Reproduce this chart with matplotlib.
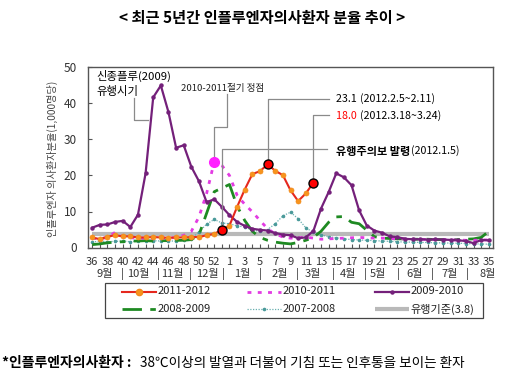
import numpy as np
import matplotlib
matplotlib.use('Agg')
import matplotlib.pyplot as plt
from matplotlib.lines import Line2D
from matplotlib.patches import Rectangle

plt.rcParams['font.family'] = ['Noto Sans CJK KR', 'DejaVu Sans']

# ---------------- data ----------------
weeks = list(range(36, 54)) + list(range(1, 36))          # 53 weekly slots
tick_weeks_shown = [w for w in weeks if (w >= 36 and w <= 52 and w % 2 == 0) or (w < 36 and w % 2 == 1)]
months = ['9월', '10월', '11월', '12월', '1월', '2월', '3월', '4월', '5월', '6월', '7월', '8월']

s_2011_2012 = [2.8, 2.3, 3.0, 3.4, 3.1, 3.1, 2.8, 2.8, 2.9, 2.8, 2.7, 2.8, 2.8, 2.9, 2.9, 3.4, 3.8,
               4.9, 6.1, 11.3, 16.1, 20.4, 21.2, 23.1, 21.3, 20.1, 15.9, 12.9, 15.0, 18.0]
s_2010_2011 = [2.6, 2.4, 2.8, 4.2, 3.0, 2.7, 2.6, 2.6, 2.5, 2.6,
               2.6, 2.8, 3.4, 4.5, 8.5, 15.0, 23.8, 22.8, 20.0, 14.5,
               12.0, 9.9, 7.5, 5.2, 3.8, 2.9, 2.6, 2.7, 2.9, 2.6,
               2.3, 2.4, 2.5, 2.6, 2.7, 2.8, 2.7, 2.6, 2.6, 2.5,
               2.4, 2.4, 2.3, 2.3, 2.2, 2.2, 2.2, 2.1, 2.1, 2.0,
               2.0, 2.1, 2.1]
s_2009_2010 = [5.5, 6.3, 6.4, 7.1, 7.4, 5.7, 9.1, 20.6, 41.7, 45.0,
               37.6, 27.7, 28.4, 22.4, 18.4, 12.6, 13.4, 11.3, 9.0, 7.1,
               6.0, 5.2, 4.9, 4.7, 4.0, 3.6, 3.4, 2.6, 2.8, 4.6,
               10.8, 15.4, 20.6, 19.5, 17.3, 10.3, 6.1, 4.7, 4.1, 3.1,
               2.9, 2.4, 2.3, 2.3, 2.2, 2.3, 2.2, 2.1, 2.0, 1.8,
               1.2, 2.1, 2.0]
s_2008_2009 = [0.8, 1.0, 1.3, 1.5, 1.6, 1.8, 1.8, 1.9, 1.8, 1.9,
               1.9, 2.0, 2.0, 2.2, 3.5, 9.5, 15.5, 16.5, 17.5, 11.5,
               7.5, 4.5, 2.8, 2.0, 1.5, 1.2, 1.0, 1.4, 2.0, 2.8,
               4.5, 7.0, 8.5, 8.6, 7.0, 6.6, 4.8, 3.0, 2.6, 2.5,
               2.4, 2.4, 2.3, 2.3, 2.3, 2.2, 2.2, 2.2, 2.2, 2.3,
               2.4, 2.8, 4.5]
s_2007_2008 = [1.5, 1.8, 1.6, 1.7, 1.8, 1.6, 1.8, 1.8, 1.9, 1.8,
               1.8, 1.8, 2.0, 2.5, 4.3, 6.5, 7.8, 6.8, 6.6, 6.0,
               5.7, 4.8, 4.5, 5.0, 6.6, 8.8, 9.8, 8.0, 5.5, 4.2,
               3.5, 3.0, 2.7, 2.4, 2.2, 2.1, 2.0, 1.9, 1.8, 1.7,
               1.6, 1.5, 1.5, 1.4, 1.4, 1.3, 1.3, 1.2, 1.2, 1.1,
               1.0, 1.0, 0.9]
threshold = 3.8
warning_week = 53   # slot of the 2012.1.5 epidemic-advisory point

# ---------------- figure ----------------
W, H = 522, 376
fig = plt.figure(figsize=(W / 100, H / 100), dpi=100)
AX_L, AX_R, AX_T, AX_B = 88, 493, 67.5, 247.5
ax = fig.add_axes([AX_L / W, 1 - AX_B / H, (AX_R - AX_L) / W, (AX_B - AX_T) / H])
XMIN, XMAX = -0.55, 52.55
ax.set_xlim(XMIN, XMAX)
ax.set_ylim(0, 50)
renderer = fig.canvas.get_renderer()

def dx(px):  # pixel -> data x
    return XMIN + (px - AX_L) / (AX_R - AX_L) * (XMAX - XMIN)

def dy(py):  # pixel -> data y
    return (AX_B - py) / (AX_B - AX_T) * 50

def chain_text(first, px_start, py, parts):
    """Place text parts one after another, starting at pixel px_start."""
    cur = px_start
    for s, kw in parts:
        t = fig.text(cur / W, 1 - py / H, s, ha='left', va='center', **kw)
        bb = t.get_window_extent(renderer=renderer)
        cur = bb.x1
    return cur

x = np.arange(len(weeks))
n12 = len(s_2011_2012)

# threshold line
ax.plot(x, [threshold] * len(x), color='#b9b9b9', lw=3, zorder=1, solid_capstyle='butt')
# 2007-2008
ax.plot(x, s_2007_2008, color='#6ab0b0', lw=0.9, ls=(0, (1, 1.2)), marker='o', ms=1.6,
        mfc='#4a9a9a', mec='#4a9a9a', zorder=2)
# 2008-2009
ax.plot(x, s_2008_2009, color='#1e8a22', lw=2.0, ls=(0, (7, 3, 2, 3)), zorder=3)
# 2010-2011
ax.plot(x, s_2010_2011, color='#e23be2', lw=2.0, ls=(0, (1.4, 2.3)), zorder=4)
# 2009-2010
ax.plot(x, s_2009_2010, color='#74207a', lw=1.6, marker='o', ms=2.2, mfc='#74207a', mec='#74207a', zorder=5)
# 2011-2012
ax.plot(x[:n12], s_2011_2012, color='#e5281e', lw=1.5, marker='o', ms=3.6, mfc='#f7941d',
        mec='#f28a1a', mew=0.5, zorder=7)

# highlighted points
i_warn = weeks.index(warning_week)
i_peak12 = int(np.argmax(s_2011_2012))
i_last12 = n12 - 1
i_peak11 = int(np.argmax(s_2010_2011))
for i in (i_warn, i_peak12, i_last12):
    ax.plot(x[i], s_2011_2012[i], 'o', ms=6.5, mfc='#ff0000', mec='black', mew=1.0, zorder=9)
ax.plot(x[i_peak11], s_2010_2011[i_peak11], 'o', ms=7, mfc='#ff1fff', mec='#ff1fff', zorder=8)

# axes styling
for sp in ax.spines.values():
    sp.set_color('#555555')
    sp.set_linewidth(1.0)
ax.set_yticks([0, 10, 20, 30, 40, 50])
ax.tick_params(axis='y', direction='in', length=3, pad=8, labelsize=8.5, labelcolor='#333333', color='#555555')
ax.set_xticks(x)
ax.set_xticklabels([str(w) if w in tick_weeks_shown else '' for w in weeks])
ax.tick_params(axis='x', direction='in', length=3, pad=6.5, labelsize=8, labelcolor='#333333', color='#555555')

# month row
month_px = [105, 138, 172, 207, 242, 280, 313, 348, 378, 415, 450, 488]
sep_px = [122, 158, 190, 223, 260, 297, 333, 365, 398, 432, 467]
for m, px in zip(months, month_px):
    fig.text(px / W, 1 - 273.5 / H, m, ha='center', va='center', fontsize=8, color='#333333')
for px in sep_px:
    fig.text(px / W, 1 - 273.5 / H, '|', ha='center', va='center', fontsize=8, color='#333333')

# y-label
fig.text(52 / W, 1 - 159 / H, '인플루엔자 의사환자분율(1,000명당)', rotation=90, ha='center', va='center',
         fontsize=7.3, color='#444444')

# title
fig.text(262 / W, 1 - 18 / H, '< 최근 5년간 인플루엔자의사환자 분율 추이 >', ha='center', va='center',
         fontsize=11, fontweight='bold', color='black')

# ---------------- annotations ----------------
lc = '#8a8a8a'
lw_l = 0.9
# 신종플루
fig.text(96 / W, 1 - 76 / H, '신종플루(2009)', fontsize=8.2, va='center', ha='left', color='black')
fig.text(96 / W, 1 - 92 / H, '유행시기', fontsize=8.2, va='center', ha='left', color='black')
ax.plot([dx(134), dx(134), dx(148)], [dy(98), dy(120), dy(120)], color=lc, lw=lw_l, zorder=6)
# 2010-2011 peak
fig.text(181 / W, 1 - 88 / H, '2010-2011절기 정점', fontsize=6.9, va='center', ha='left', color='#222222')
ax.plot([dx(226.7), dx(226.7), x[i_peak11], x[i_peak11]],
        [dy(94), dy(126.7), dy(126.7), s_2010_2011[i_peak11] + 1.6], color=lc, lw=lw_l, zorder=6)
# 23.1
chain_text(None, 336.5, 98.5, [('%.1f ' % s_2011_2012[i_peak12], dict(fontsize=7.7, color='black')),
                               ('(2012.2.5~2.11)', dict(fontsize=7.7, color='black'))])
ax.plot([dx(329), x[i_peak12], x[i_peak12]], [dy(99), dy(99), s_2011_2012[i_peak12] + 1.3],
        color=lc, lw=lw_l, zorder=6)
# 18.0
chain_text(None, 336.5, 116, [('%.1f ' % s_2011_2012[i_last12], dict(fontsize=7.7, color='#ff0000')),
                              ('(2012.3.18~3.24)', dict(fontsize=7.7, color='black'))])
ax.plot([dx(329), x[i_last12], x[i_last12]], [dy(115), dy(115), s_2011_2012[i_last12] + 1.3],
        color=lc, lw=lw_l, zorder=6)
# 유행주의보
chain_text(None, 336.5, 151, [('유행주의보 발령', dict(fontsize=8, fontweight='bold', color='black')),
                              ('(2012.1.5)', dict(fontsize=7.7, color='black'))])
ax.plot([dx(327), x[i_warn], x[i_warn]], [dy(149.3), dy(149.3), s_2011_2012[i_warn] + 1.3],
        color=lc, lw=lw_l, zorder=6)

# ---------------- legend (manual) ----------------
def fpx(px, py):
    return px / W, 1 - py / H

x0, y0 = fpx(105, 318)
x1, y1 = fpx(483, 283)
fig.patches.append(Rectangle((x0, y0), x1 - x0, y1 - y0, transform=fig.transFigure,
                             fill=False, edgecolor='#444444', lw=0.9))
legend_items = [
    ('2011-2012', dict(color='#e5281e', lw=1.5), dict(marker='o', ms=4.5, mfc='#f7941d', mec='#f28a1a'), 122, 291.5),
    ('2010-2011', dict(color='#e23be2', lw=2.0, ls=(0, (1.4, 2.3))), None, 247, 291.5),
    ('2009-2010', dict(color='#74207a', lw=1.6), dict(marker='o', ms=2.2, mfc='#74207a', mec='#74207a'), 375, 291.5),
    ('2008-2009', dict(color='#1e8a22', lw=2.0, ls=(0, (7, 3, 2, 3))), None, 122, 309),
    ('2007-2008', dict(color='#6ab0b0', lw=0.9, ls=(0, (1, 1.2))), dict(marker='o', ms=1.6, mfc='#4a9a9a', mec='#4a9a9a'), 247, 309),
    ('유행기준(3.8)', dict(color='#b9b9b9', lw=3, solid_capstyle='butt'), None, 375, 309),
]
for label, lkw, mkw, px, py in legend_items:
    xa, ya = fpx(px, py)
    xb, _ = fpx(px + 34, py)
    fig.lines.append(Line2D([xa, xb], [ya, ya], transform=fig.transFigure, **lkw))
    if mkw:
        fig.lines.append(Line2D([(xa + xb) / 2], [ya], transform=fig.transFigure, ls='none', **mkw))
    fig.text(xb + 1.5 / W, ya, label, ha='left', va='center', fontsize=8, color='#222222')

# ---------------- footnote ----------------
fig.text(2 / W, 1 - 363 / H, '*인플루엔자의사환자 :', ha='left', va='center', fontsize=10,
         fontweight='bold', color='black')
fig.text(140 / W, 1 - 363 / H, '38℃이상의 발열과 더불어 기침 또는 인후통을 보이는 환자', ha='left', va='center',
         fontsize=9.8, color='black')

fig.savefig('out.png', dpi=100)
